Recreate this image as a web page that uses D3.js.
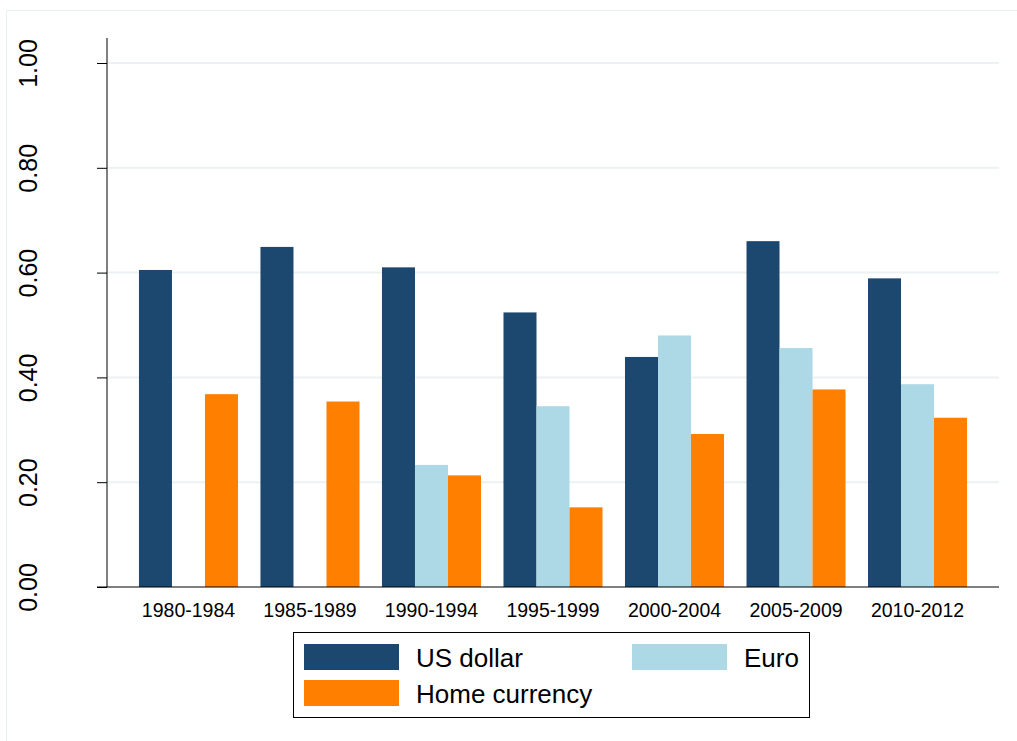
<!DOCTYPE html>
<html>
<head>
<meta charset="utf-8">
<script src="https://cdn.jsdelivr.net/npm/d3@7"></script>
<style>
  body { margin: 0; background: #fff; }
  text { font-family: Arial, "Liberation Sans", sans-serif; fill: #000; }
</style>
</head>
<body>
<div id="chart"></div>
<script>
const periods = ["1980-1984", "1985-1989", "1990-1994", "1995-1999", "2000-2004", "2005-2009", "2010-2012"];
const usDollar = [0.605, 0.649, 0.610, 0.524, 0.439, 0.660, 0.589];
const euro = [0, 0, 0.233, 0.345, 0.480, 0.456, 0.387];
const homeCurrency = [0.368, 0.354, 0.213, 0.152, 0.292, 0.377, 0.323];
const seriesNames = ["US dollar", "Euro", "Home currency"];
const yTicks = [0, 0.2, 0.4, 0.6, 0.8, 1.0];

const colors = ["#1c4870", "#add8e6", "#ff7f00"];
const allSeries = [usDollar, euro, homeCurrency];

const width = 1017, height = 741;
const plot = {left: 107, right: 999, top: 38, bottom: 587};

const svg = d3.select("#chart").append("svg")
    .attr("width", width)
    .attr("height", height);

// faint outer frame
svg.append("rect")
    .attr("x", 6.5).attr("y", 10.5)
    .attr("width", 1020).attr("height", 740)
    .attr("fill", "none")
    .attr("stroke", "#eaf0f0");

const y = d3.scaleLinear().domain([0, 1]).range([plot.bottom, 63]);
const x = d3.scaleBand().domain(periods)
    .range([plot.left, plot.right])
    .paddingInner(0.185)
    .paddingOuter(0.263);
const xs = d3.scaleBand().domain(seriesNames).range([0, x.bandwidth()]);

// gridlines
svg.append("g")
    .selectAll("line")
    .data(yTicks.filter(d => d > 0))
    .enter()
    .append("line")
    .attr("x1", plot.left).attr("x2", plot.right)
    .attr("y1", d => y(d)).attr("y2", d => y(d))
    .attr("stroke", "#eaf2f3")
    .attr("stroke-width", 2);

// bars
const groups = svg.append("g")
    .selectAll("g")
    .data(periods)
    .enter()
    .append("g")
    .attr("transform", d => `translate(${x(d)},0)`);

groups.selectAll("rect")
    .data((p, i) => allSeries.map((s, j) => ({name: seriesNames[j], value: s[i], color: colors[j]})))
    .enter()
    .append("rect")
    .filter(d => d.value > 0)
    .attr("x", d => xs(d.name))
    .attr("width", xs.bandwidth())
    .attr("y", d => y(d.value))
    .attr("height", d => y(0) - y(d.value))
    .attr("fill", d => d.color);

// y axis
const yAxis = svg.append("g")
    .attr("transform", `translate(${plot.left},0)`)
    .call(d3.axisLeft(y).tickValues(yTicks).tickFormat(d3.format(".2f")).tickSize(10).tickPadding(0));
yAxis.select(".domain").attr("d", `M0,${plot.top}V${plot.bottom}`).attr("stroke", "#000");
yAxis.selectAll(".tick line").attr("stroke", "#000");
yAxis.selectAll(".tick text")
    .attr("x", 0).attr("dy", 0)
    .attr("transform", "translate(-79,0) rotate(-90)")
    .attr("text-anchor", "middle")
    .attr("dominant-baseline", "central")
    .style("font-size", "25px");

// x axis
const xAxis = svg.append("g")
    .attr("transform", `translate(0,${plot.bottom})`)
    .call(d3.axisBottom(x).tickSize(0).tickPadding(16));
xAxis.select(".domain").attr("d", `M97,0H${plot.right}`).attr("stroke", "#000");
xAxis.selectAll(".tick text")
    .attr("dy", "0.71em")
    .style("font-size", "19.5px");

// legend
const legend = svg.append("g");
legend.append("rect")
    .attr("x", 293.5).attr("y", 632.5)
    .attr("width", 516).attr("height", 85)
    .attr("fill", "#fff")
    .attr("stroke", "#000");

const legendPos = [
    {x: 304, y: 644},
    {x: 632, y: 644},
    {x: 304, y: 680}
];
seriesNames.forEach((name, i) => {
    const p = legendPos[i];
    legend.append("rect")
        .attr("x", p.x).attr("y", p.y)
        .attr("width", 95).attr("height", 26)
        .attr("fill", colors[i]);
    legend.append("text")
        .attr("x", p.x + 112)
        .attr("y", p.y + 23)
        .style("font-size", "26px")
        .text(name);
});
</script>
</body>
</html>
